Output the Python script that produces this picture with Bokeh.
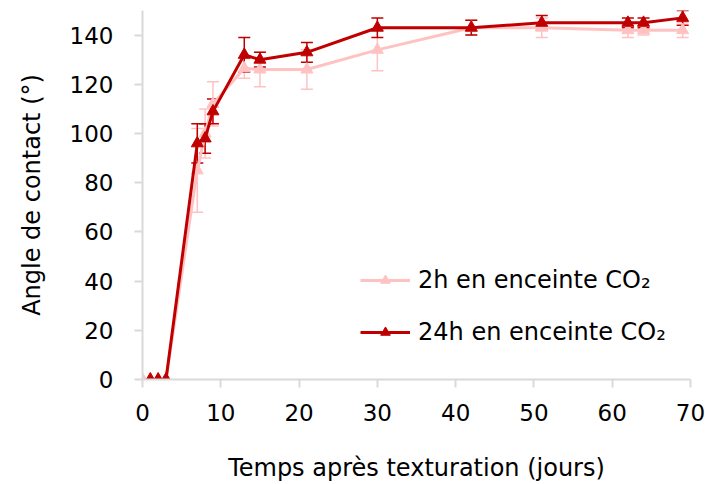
from bokeh.plotting import figure
from bokeh.models import Range1d, FixedTicker, Whisker, TeeHead, ColumnDataSource, Legend, LegendItem
from bokeh.embed import file_html
from bokeh.resources import INLINE

days_2h = [0, 1, 2, 3, 7, 8, 9, 13, 15, 21, 30, 42, 51, 62, 64, 69]
angle_2h = [0, 0, 0, 0, 85, 100, 112, 126.5, 126, 126, 134, 143, 143, 142, 142, 142]
err_2h = [0, 0, 0, 0, 17, 10, 9, 4, 7, 8, 8.5, 3, 4, 3, 2, 3]

days_24h = [1, 2, 3, 7, 8, 9, 13, 15, 21, 30, 42, 51, 62, 64, 69]
angle_24h = [0, 0, 0, 96, 98, 109, 132, 130, 133, 143, 143, 145, 145, 145, 147]
err_24h = [0, 0, 0, 8, 6, 5, 7, 3, 4, 4, 3, 3, 2, 2, 3]

x_ticks = [0, 10, 20, 30, 40, 50, 60, 70]
y_ticks = [0, 20, 40, 60, 80, 100, 120, 140]

LIGHT = "#FFC2C2"
DARK = "#C00000"
FONT = "DejaVu Sans"
AX = "#D9D9D9"

p = figure(frame_width=548, frame_height=369, output_backend="svg", toolbar_location=None,
           x_range=Range1d(0, 70), y_range=Range1d(0, 150),
           min_border_left=142, min_border_right=15, min_border_top=10, min_border_bottom=97)
p.outline_line_color = None
p.xgrid.visible = False
p.ygrid.visible = False

for ax, ticks in ((p.xaxis, x_ticks), (p.yaxis, y_ticks)):
    ax.ticker = FixedTicker(ticks=ticks)
    ax.axis_line_color = AX
    ax.axis_line_width = 2
    ax.major_tick_line_color = AX
    ax.major_tick_line_width = 2
    ax.major_tick_in = 0
    ax.major_tick_out = 8
    ax.minor_tick_line_color = None
    ax.major_label_text_font = FONT
    ax.major_label_text_font_size = "23px"
    ax.major_label_text_color = "#000000"
    ax.axis_label_text_font = FONT
    ax.axis_label_text_font_size = "24px"
    ax.axis_label_text_font_style = "normal"
    ax.axis_label_text_color = "#000000"

p.xaxis.axis_label = "Temps après texturation (jours)"
p.yaxis.axis_label = "Angle de contact (°)"
p.xaxis.major_label_standoff = 16
p.yaxis.major_label_standoff = 21
p.xaxis.axis_label_standoff = 30
p.yaxis.axis_label_standoff = 21


def add_series(days, ang, err, color):
    idx = [i for i in range(len(days)) if err[i] > 0]
    src = ColumnDataSource(dict(
        x=[days[i] for i in idx],
        lo=[ang[i] - err[i] for i in idx],
        hi=[ang[i] + err[i] for i in idx]))
    w = Whisker(base="x", lower="lo", upper="hi", source=src, dimension="height",
                line_color=color, line_width=1.5,
                upper_head=TeeHead(size=12, line_color=color, line_width=1.5),
                lower_head=TeeHead(size=12, line_color=color, line_width=1.5))
    p.add_layout(w)
    ln = p.line(days, ang, line_color=color, line_width=3)
    mk = p.scatter(days, ang, marker="triangle", size=12, fill_color=color, line_color=color)
    return ln, mk


r2 = add_series(days_2h, angle_2h, err_2h, LIGHT)
r24 = add_series(days_24h, angle_24h, err_24h, DARK)

legend = Legend(items=[LegendItem(label="2h en enceinte CO₂", renderers=list(r2)),
                       LegendItem(label="24h en enceinte CO₂", renderers=list(r24))],
                location=(218, 33), orientation="vertical")
legend.background_fill_alpha = 0
legend.border_line_color = None
legend.padding = 0
legend.margin = 0
legend.spacing = 24
legend.glyph_width = 50
legend.glyph_height = 24
legend.label_standoff = 8
legend.label_text_font = FONT
legend.label_text_font_size = "24px"
legend.label_text_color = "#000000"
p.add_layout(legend)

open("out.html", "w").write(file_html(p, INLINE))
